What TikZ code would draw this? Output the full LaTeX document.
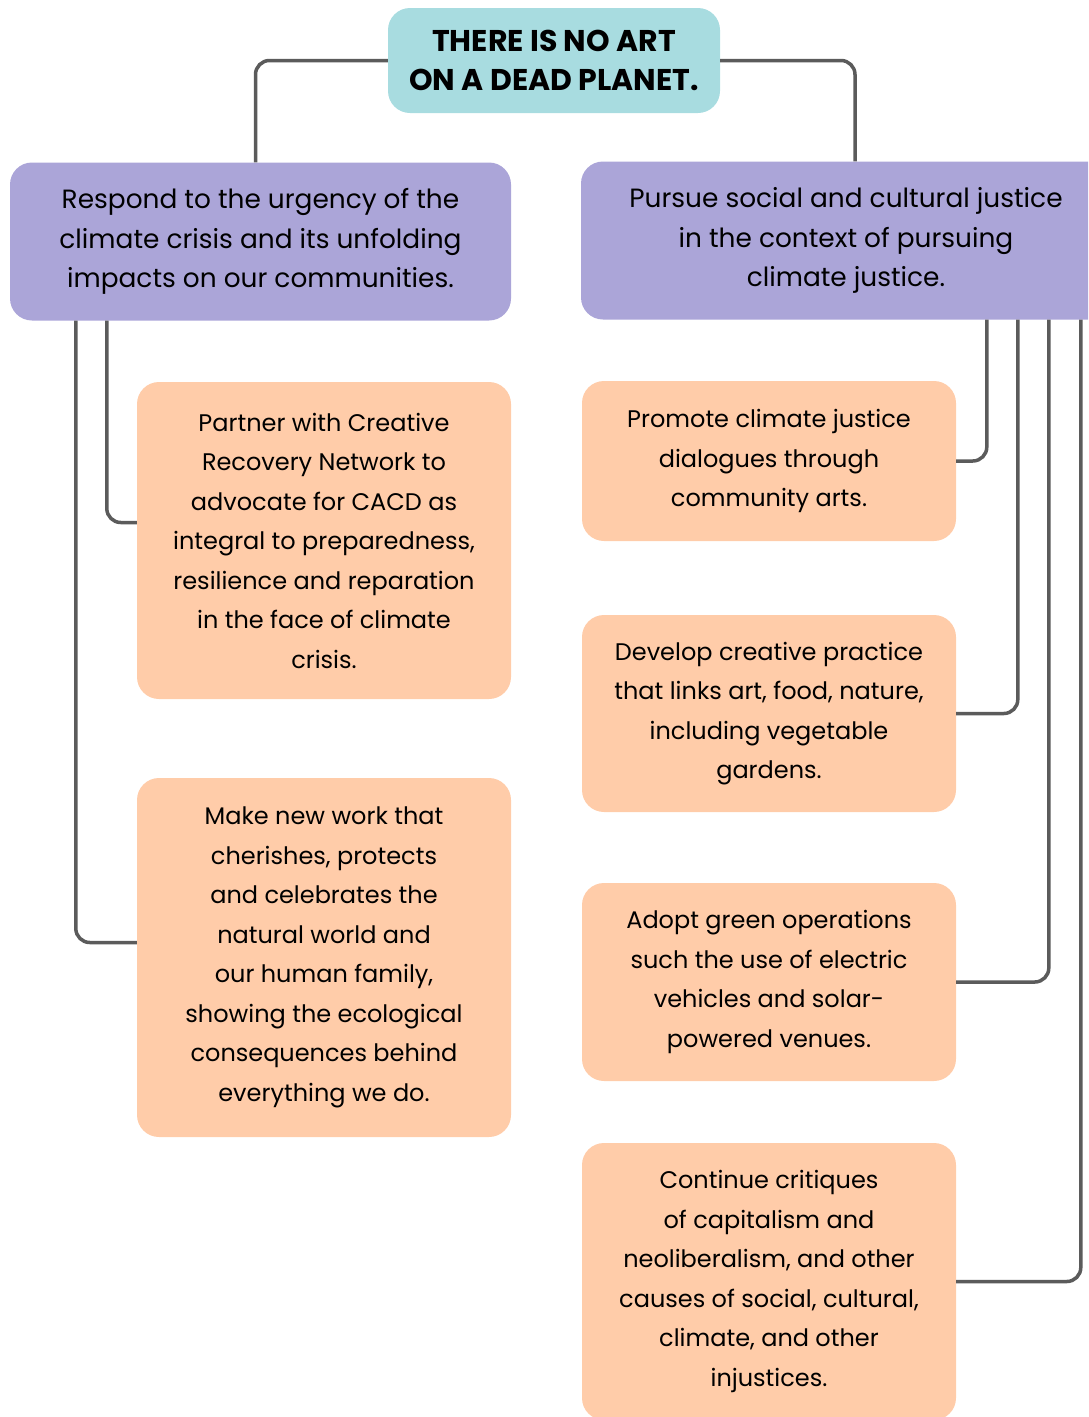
\documentclass[tikz,border=0pt]{standalone}
\usepackage{fontspec}
\setmainfont{Poppins}
\usetikzlibrary{positioning}
\definecolor{headteal}{HTML}{A8DCE0}
\definecolor{goallav}{HTML}{ABA5D8}
\definecolor{actpeach}{HTML}{FFCCA9}
\definecolor{linkgray}{HTML}{5B5B5B}

\begin{document}
\begin{tikzpicture}[x=1pt,y=-1pt,
  box/.style={rounded corners=22pt,align=center,inner sep=0pt,
    font=\fontsize{24}{39.5}\selectfont},
  goal/.style={box,fill=goallav,minimum height=158pt,
    font=\fontsize{26.4}{39.5}\selectfont},
  act/.style={box,fill=actpeach,minimum width=374pt},
  link/.style={draw=linkgray,line width=3.5pt,rounded corners=14pt}]
\useasboundingbox (0,0) rectangle (1088,1417);
\clip (0,0) rectangle (1088,1417);
% heading
\node[box,fill=headteal,minimum width=332pt,minimum height=105pt,
  font=\fontsize{30}{39}\selectfont\bfseries] (head) at (554,60.5)
  {THERE IS NO ART\\ON A DEAD PLANET.};
% the two goals
\node[goal,minimum width=501pt] (urgency) at (260.5,241.5)
  {Respond to the urgency of the\\climate crisis and its unfolding\\impacts on our communities.};
\node[goal,minimum width=530pt] (justice) at (846,240.5)
  {Pursue social and cultural justice\\in the context of pursuing\\climate justice.};
% actions, left
\node[act,minimum height=317pt] (partner) at (324,540.5)
  {Partner with Creative\\Recovery Network to\\advocate for CACD as\\integral to preparedness,\\resilience and reparation\\in the face of climate\\crisis.};
\node[act,minimum height=359pt] (newwork) at (324,957.5)
  {Make new work that\\cherishes, protects\\and celebrates the\\natural world and\\our human family,\\showing the ecological\\consequences behind\\everything we do.};
% actions, right
\node[act,minimum height=160pt] (dialogue) at (769,461)
  {Promote climate justice\\dialogues through\\community arts.};
\node[act,minimum height=197pt] (practice) at (769,713.5)
  {Develop creative practice\\that links art, food, nature,\\including vegetable\\gardens.};
\node[act,minimum height=198pt] (green) at (769,982)
  {Adopt green operations\\such the use of electric\\vehicles and solar-\\powered venues.};
\node[act,minimum height=277pt] (critique) at (769,1281.5)
  {Continue critiques\\of capitalism and\\neoliberalism, and other\\causes of social, cultural,\\climate, and other\\injustices.};
% connectors
\draw[link] (head.west) -| ([xshift=-5pt]urgency.north);
\draw[link] (head.east) -| ([xshift=9pt]justice.north);
\draw[link] ([xshift=97pt]urgency.south west) |- ([yshift=18pt]partner.west);
\draw[link] ([xshift=66pt]urgency.south west) |- ([yshift=15pt]newwork.west);
\foreach \n/\dx in {dialogue/406,practice/437,green/468,critique/500}
  \draw[link] ([xshift=\dx pt]justice.south west) |- (\n.east);
\end{tikzpicture}
\end{document}
